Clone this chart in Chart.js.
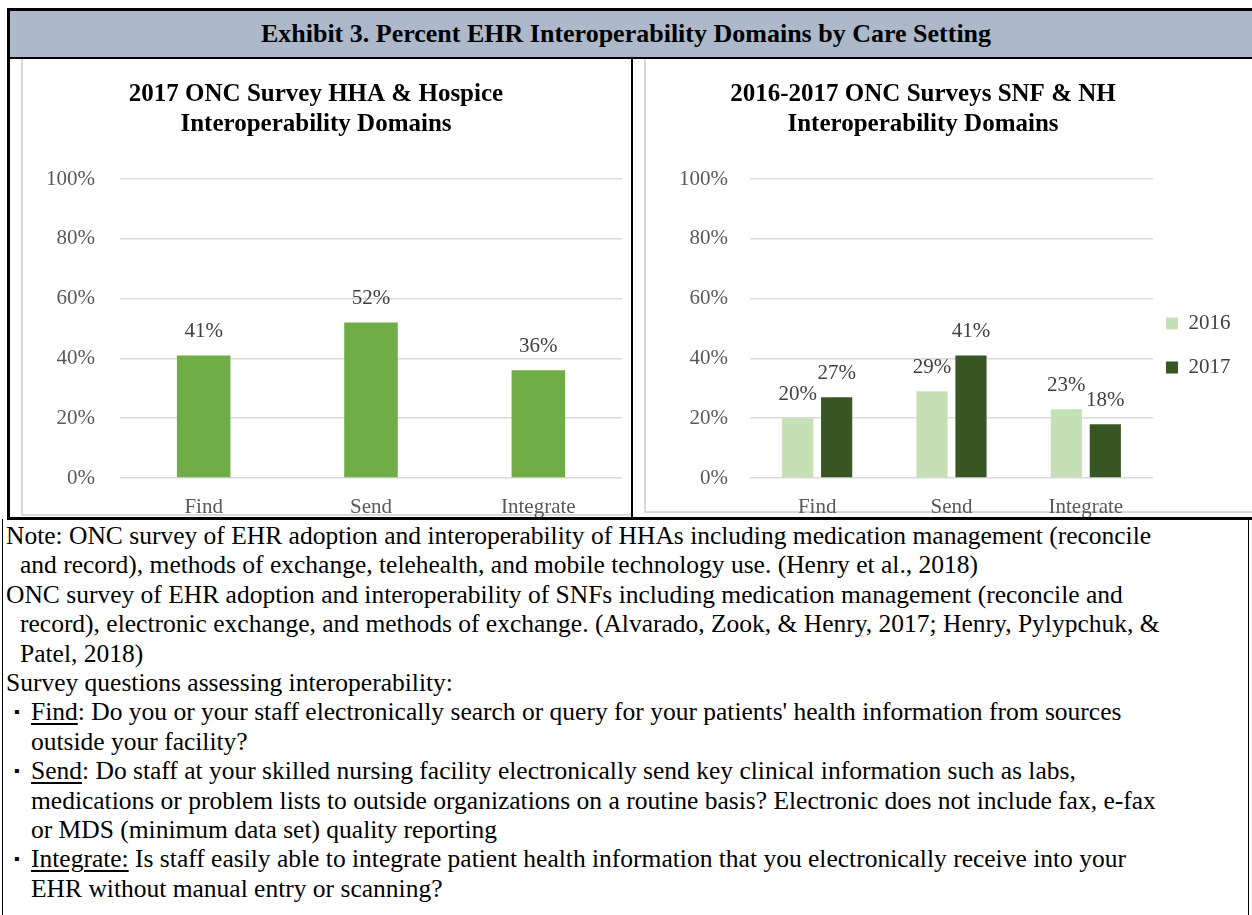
<!DOCTYPE html>
<html><head><meta charset="utf-8">
<script src="https://cdn.jsdelivr.net/npm/chart.js@4/dist/chart.umd.min.js"></script>
<style>
html,body{margin:0;padding:0;background:#fff;width:1252px;height:915px;overflow:hidden;position:relative;font-family:"Liberation Serif","Times New Roman",serif;color:#000;}
.a{position:absolute;}
.blk{background:#000;}
#hdrText{left:0;width:1252px;top:11px;height:46px;line-height:46px;text-align:center;font-weight:bold;font-size:26px;}
.note{position:absolute;white-space:nowrap;font-size:25.5px;line-height:29.4px;}
u{text-decoration:underline;text-underline-offset:3px;}
</style>
</head><body>
<div class="a blk" style="left:7px;top:8px;width:1245px;height:3px"></div>
<div class="a blk" style="left:7px;top:8px;width:3px;height:512px"></div>
<div class="a" style="left:10px;top:11px;width:1242px;height:46px;background:#ADB9CA"></div>
<div class="a blk" style="left:7px;top:57px;width:1245px;height:2px"></div>
<div id="hdrText" class="a">Exhibit 3. Percent EHR Interoperability Domains by Care Setting</div>
<div class="a" style="left:21px;top:59px;width:610px;height:455px;border-left:2px solid #D9D9D9;border-bottom:2px solid #D9D9D9"></div>
<div class="a" style="left:644px;top:59px;width:620px;height:452px;border-left:2px solid #D9D9D9;border-bottom:2px solid #D9D9D9"></div>
<div class="a blk" style="left:631px;top:59px;width:2px;height:458px"></div>
<div class="a blk" style="left:7px;top:517px;width:1245px;height:3px"></div>
<div class="a blk" style="left:2px;top:519px;width:1px;height:396px"></div>
<div class="a blk" style="left:1248px;top:519px;width:1px;height:396px"></div>

<canvas id="c1" class="a" style="left:10px;top:59px" width="618" height="458"></canvas>
<canvas id="c2" class="a" style="left:606px;top:59px" width="646" height="458"></canvas>

<div id="notes" class="a" style="left:0;top:521px;width:1252px;height:394px">
<div class="note" style="left:6px;top:0px">Note: ONC survey of EHR adoption and interoperability of HHAs including medication management (reconcile</div>
<div class="note" style="left:20px;top:29.4px">and record), methods of exchange, telehealth, and mobile technology use. (Henry et al., 2018)</div>
<div class="note" style="left:6px;top:58.8px">ONC survey of EHR adoption and interoperability of SNFs including medication management (reconcile and</div>
<div class="note" style="left:20px;top:88.2px">record), electronic exchange, and methods of exchange. (Alvarado, Zook, &amp; Henry, 2017; Henry, Pylypchuk, &amp;</div>
<div class="note" style="left:20px;top:117.6px">Patel, 2018)</div>
<div class="note" style="left:6px;top:147px">Survey questions assessing interoperability:</div>
<div class="note" style="left:14px;top:176.4px"><span style="font-size:16px;vertical-align:3px">&#9642;</span></div>
<div class="note" style="left:31px;top:176.4px"><u>Find</u>: Do you or your staff electronically search or query for your patients' health information from sources</div>
<div class="note" style="left:31px;top:205.8px">outside your facility?</div>
<div class="note" style="left:14px;top:235.2px"><span style="font-size:16px;vertical-align:3px">&#9642;</span></div>
<div class="note" style="left:31px;top:235.2px"><u>Send</u>: Do staff at your skilled nursing facility electronically send key clinical information such as labs,</div>
<div class="note" style="left:31px;top:264.6px">medications or problem lists to outside organizations on a routine basis? Electronic does not include fax, e-fax</div>
<div class="note" style="left:31px;top:294px">or MDS (minimum data set) quality reporting</div>
<div class="note" style="left:14px;top:323.4px"><span style="font-size:16px;vertical-align:3px">&#9642;</span></div>
<div class="note" style="left:31px;top:323.4px"><u>Integrate:</u> Is staff easily able to integrate patient health information that you electronically receive into your</div>
<div class="note" style="left:31px;top:352.8px">EHR without manual entry or scanning?</div>
</div>

<script>
// ---- data ----
const categories = ['Find', 'Send', 'Integrate'];
const hhaValues = [41, 52, 36];
const snf2016 = [20, 29, 23];
const snf2017 = [27, 41, 18];
const seriesNames = ['2016', '2017'];
const yTicks = [0, 20, 40, 60, 80, 100];
const leftTitle = ['2017 ONC Survey HHA & Hospice', 'Interoperability Domains'];
const rightTitle = ['2016-2017 ONC Surveys SNF & NH', 'Interoperability Domains'];

Chart.defaults.font.family = '"Liberation Serif", "Times New Roman", serif';
Chart.defaults.animation = false;

const dataLabels = {
  id: 'dataLabels',
  afterDatasetsDraw(chart) {
    const ctx = chart.ctx;
    ctx.save();
    ctx.font = '21px "Liberation Serif"';
    ctx.fillStyle = '#404040';
    ctx.textAlign = 'center';
    ctx.textBaseline = 'middle';
    chart.data.datasets.forEach((ds, i) => {
      chart.getDatasetMeta(i).data.forEach((bar, j) => {
        ctx.fillText(ds.data[j] + '%', bar.x, bar.y - 24);
      });
    });
    ctx.restore();
  }
};

function scales(yWidth, pad) {
  return {
    x: {
      grid: { display: false, drawTicks: false },
      border: { display: false },
      ticks: { color: '#595959', font: { size: 21 }, padding: 17 },
      afterFit: s => { s.height = 39; }
    },
    y: {
      min: 0, max: 100,
      afterBuildTicks: s => { s.ticks = yTicks.map(v => ({ value: v })); },
      grid: { color: '#D9D9D9', lineWidth: 1.5, drawTicks: false },
      border: { display: false },
      ticks: { color: '#595959', font: { size: 21 }, padding: pad, callback: v => v + '%' },
      afterFit: s => { s.width = yWidth; }
    }
  };
}

function titleOpts(text) {
  return {
    display: true, text: text, color: '#000',
    font: { size: 25, weight: 'bold', lineHeight: '30px' },
    padding: { top: 21, bottom: 39 }
  };
}

new Chart(document.getElementById('c1'), {
  type: 'bar',
  data: {
    labels: categories,
    datasets: [{ label: '2017', data: hhaValues, backgroundColor: '#70AD47',
      categoryPercentage: 1, barPercentage: 0.32 }]
  },
  options: {
    responsive: false,
    layout: { padding: { left: 0, right: 6, top: 0, bottom: 0 } },
    plugins: { legend: { display: false }, tooltip: { enabled: false }, title: titleOpts(leftTitle) },
    scales: scales(110, 25)
  },
  plugins: [dataLabels]
});

new Chart(document.getElementById('c2'), {
  type: 'bar',
  data: {
    labels: categories,
    datasets: [
      { label: seriesNames[0], data: snf2016, backgroundColor: '#C5E0B4', categoryPercentage: 0.58, barPercentage: 0.8 },
      { label: seriesNames[1], data: snf2017, backgroundColor: '#375623', categoryPercentage: 0.58, barPercentage: 0.8 }
    ]
  },
  options: {
    responsive: false,
    layout: { padding: { left: 0, right: 12, top: 0, bottom: 0 } },
    plugins: {
      tooltip: { enabled: false },
      title: titleOpts(rightTitle),
      legend: {
        position: 'right', align: 'start', maxWidth: 87,
        title: { display: true, text: '', font: { size: 1, lineHeight: 1 }, padding: { top: 0, bottom: 240 } },
        labels: {
          boxWidth: 12, boxHeight: 12, padding: 13, color: '#404040',
          font: { size: 21, lineHeight: '31px' },
          generateLabels: chart => Chart.defaults.plugins.legend.labels.generateLabels(chart)
            .map(it => Object.assign(it, { text: [it.text], lineWidth: 0 }))
        }
      }
    },
    scales: scales(144, 22)
  },
  plugins: [dataLabels]
});
</script>
</body></html>
